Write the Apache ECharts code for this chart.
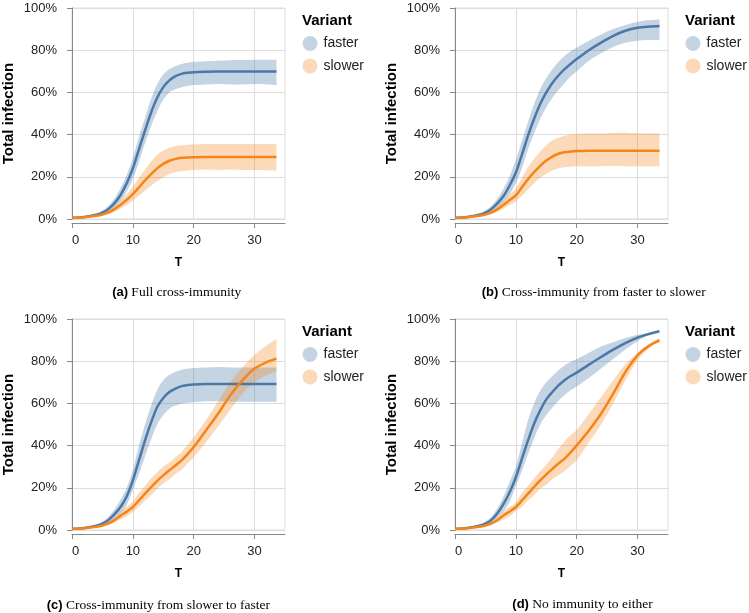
<!DOCTYPE html>
<html>
<head>
<meta charset="utf-8">
<script src="https://cdn.jsdelivr.net/npm/echarts@6/dist/echarts.min.js"></script>
<style>
html,body{margin:0;padding:0;background:#fff;}
#chart{width:749px;height:613px;}
</style>
</head>
<body>
<div id="chart"></div>
<script>
// ---- data ----
const T = [0,2,4,5,6,7,8,9,10,11,12,13,14,15,16,17,18,19,20,22,24,26,28,30,32,33.6];
const xTicks = [0,10,20,30];
const variants = ['faster','slower'];
const legendTitle = 'Variant';
const yTitle = 'Total infection';
const xTitle = 'T';
const captionTags = ['(a)','(b)','(c)','(d)'];
const captionTexts = ['Full cross-immunity','Cross-immunity from faster to slower','Cross-immunity from slower to faster','No immunity to either'];

// Panel A: Full cross-immunity
const aFasterMean  = [0.6,1.0,2.0,3.0,4.8,7.5,11.5,17,24,33,42,50.5,57.5,62.5,65.7,67.7,68.8,69.3,69.6,69.8,69.9,69.9,69.9,69.9,69.9,69.9];
const aFasterUpper = [0.8,1.3,2.6,4,6.3,9.8,14.8,21,29,39,48,57,64,68.5,71,72.5,73.5,74,74.5,74.8,75,75.2,75.3,75.5,75.5,75.5];
const aFasterLower = [0.4,0.8,1.5,2.2,3.6,5.5,8.5,13,19,27,36,44,51,56.5,60,61.5,62.5,63,63.5,63.8,64,63.8,63.8,64,63.8,63.5];
const aSlowerMean  = [0.5,0.8,1.5,2.1,3.1,4.7,6.8,9.1,11.8,15,18.3,21.3,24,26.1,27.6,28.5,29,29.2,29.3,29.4,29.4,29.4,29.4,29.4,29.4,29.4];
const aSlowerUpper = [0.6,1.0,1.9,2.7,4.0,6.0,8.8,11.8,15.3,19.5,23.5,27.3,30.5,32.5,33.8,34.6,35,35.2,35.3,35.5,35.5,35.6,35.5,35.5,35.5,35.4];
const aSlowerLower = [0.4,0.6,1.1,1.6,2.3,3.5,5.0,6.8,8.7,11,13.5,15.8,18,19.8,21.3,22.2,22.7,23,23.2,23.3,23.2,23.3,23.2,23.2,23.1,23.0];

// Panel B: Cross-immunity from faster to slower
const bFasterMean  = [0.6,1.0,2.0,3.0,4.8,7.5,11,16,22,30.5,39.5,47.5,54.5,60,64.5,68,71,73.5,75.8,80,83.6,86.8,89.2,90.6,91.2,91.5];
const bFasterUpper = [0.8,1.3,2.6,4,6.3,9.8,14.5,20.5,28,37,46,54.5,61.5,66.8,71,74.5,77.3,79.5,81.3,84.5,87.5,90,92,93.5,94.3,94.6];
const bFasterLower = [0.4,0.8,1.5,2.2,3.6,5.5,8,12,17,24,33,40.5,47.5,53,57.5,61,64.5,67.5,70,75,78.5,81.5,83.5,84.5,84.8,84.8];
const bSlowerMean  = [0.5,0.8,1.5,2.1,3.1,4.7,6.8,9,11.2,15,18.9,22.2,25.2,27.7,29.6,30.9,31.6,32,32.2,32.4,32.4,32.4,32.4,32.4,32.4,32.4];
const bSlowerUpper = [0.6,1.0,1.9,2.7,4.0,6.0,8.8,11.8,14.5,19.5,24.5,28.5,32,35,37.2,38.5,39.5,40,40.3,40.5,40.5,40.8,41,40.6,40.6,40.5];
const bSlowerLower = [0.4,0.6,1.1,1.6,2.3,3.5,5.0,6.6,8.3,11,14,17,19.5,21.5,23,24,24.5,24.8,25,25,25,25.2,25,25,25,25];

// Panel C: Cross-immunity from slower to faster
const cFasterMean  = [0.6,1.0,2.0,3.0,4.8,7.5,11,16,23.5,33,42.5,51,58.3,62.6,65.4,67,68.2,68.7,69,69.2,69.2,69.2,69.2,69.2,69.2,69.2];
const cFasterUpper = [0.8,1.3,2.6,4,6.3,9.8,14.5,20,28.5,40,50,59,66.5,71,73.5,75,76,76.5,76.8,77,77.2,77,77,77,77,77];
const cFasterLower = [0.4,0.8,1.5,2.2,3.6,5.5,8,12,19,26.5,35,43,50,54.5,57.5,59,59.8,60.3,60.6,61,61,60.8,60.8,60.8,60.8,60.8];
const cSlowerMean  = [0.5,0.8,1.5,2.1,3.1,4.7,6.8,8.7,10.9,14,17.2,20.3,23.3,25.9,28.3,30.6,33,36,39.3,47.2,55.1,63.8,70.9,76.5,79.6,81.2];
const cSlowerUpper = [0.6,1.0,1.9,2.7,4.0,6.0,8.8,11,13.5,17.5,21,24.5,27.5,30,32,34.5,37,40.5,44,52,61,70,77,83,87.5,90.5];
const cSlowerLower = [0.4,0.6,1.1,1.6,2.3,3.5,5.0,6.5,8.5,11,14,16.5,19.5,22,24,26.5,28.5,31.5,34.5,41.5,49,57,64.5,70,73.5,75];

// Panel D: No immunity to either
const dFasterMean  = [0.6,1.0,2.0,3.0,4.8,8,12.5,18,25,33.8,42.5,50.4,56.7,61.9,65.4,68.5,71,73,74.6,78.4,82,85.5,88.6,91.2,93,94.2];
const dFasterUpper = [0.8,1.3,2.6,4,6.3,10.5,16,23,30,41,52,60,66,70,73,75.7,78,79.7,81,84,87,89,91,92.5,93.5,94.5];
const dFasterLower = [0.4,0.8,1.5,2.2,3.6,5.8,9,13.5,21,28,36,43.5,50,54.5,58,61.3,64,66.2,68,72,76.5,81,85.5,89.5,92.5,94];
const dSlowerMean  = [0.5,0.8,1.5,2.1,3.1,4.7,7,8.8,10.9,14,17.2,20.4,23.5,26.3,29,31.5,33.8,36.8,40.1,47.2,55.1,64.6,74.9,82.8,87.5,89.9];
const dSlowerUpper = [0.6,1.0,1.9,2.7,4.0,6.0,9,11,13,17.5,21,24.5,28,31,34.5,38.5,42,45,47.5,55,63,71,78.5,84,88.5,91];
const dSlowerLower = [0.4,0.6,1.1,1.6,2.3,3.5,5.0,6.5,9,11,14,16.5,19.5,21.5,24,26,28,30.5,33,41.5,50,60,71,80.5,86.5,89];

const panels = [
  {faster:{mean:aFasterMean,upper:aFasterUpper,lower:aFasterLower}, slower:{mean:aSlowerMean,upper:aSlowerUpper,lower:aSlowerLower}},
  {faster:{mean:bFasterMean,upper:bFasterUpper,lower:bFasterLower}, slower:{mean:bSlowerMean,upper:bSlowerUpper,lower:bSlowerLower}},
  {faster:{mean:cFasterMean,upper:cFasterUpper,lower:cFasterLower}, slower:{mean:cSlowerMean,upper:cSlowerUpper,lower:cSlowerLower}},
  {faster:{mean:dFasterMean,upper:dFasterUpper,lower:dFasterLower}, slower:{mean:dSlowerMean,upper:dSlowerUpper,lower:dSlowerLower}}
];

// ---- styling / layout ----
const colors = {faster:'#4c78a8', slower:'#f58518'};
const bandColors = {faster:'rgba(76,120,168,0.32)', slower:'rgba(245,133,24,0.3)'};
const SANS = 'Liberation Sans, Arial, Helvetica, sans-serif';
const SERIF = 'Liberation Serif, Times New Roman, serif';
const gridPos = [
  {left:72, top:8}, {left:455, top:8}, {left:72, top:319}, {left:455, top:319}
];
const GW = 213, GH = 211;
const captionPos = [[176.7,292],[593.7,292],[158.3,605],[582.5,604.5]];

// Catmull-Rom -> cubic bezier segments (pixel points from the axis scales)
function curvePath(pts) {
  let s = '';
  for (let i = 0; i < pts.length - 1; i++) {
    const p0 = pts[i - 1] || pts[i], p1 = pts[i], p2 = pts[i + 1], p3 = pts[i + 2] || pts[i + 1];
    const c1 = [p1[0] + (p2[0] - p0[0]) / 6, p1[1] + (p2[1] - p0[1]) / 6];
    const c2 = [p2[0] - (p3[0] - p1[0]) / 6, p2[1] - (p3[1] - p1[1]) / 6];
    s += 'C' + c1[0] + ' ' + c1[1] + ' ' + c2[0] + ' ' + c2[1] + ' ' + p2[0] + ' ' + p2[1];
  }
  return s;
}
function bandRenderer(upper, lower, fill) {
  return function (params, api) {
    const up = T.map((t, k) => api.coord([t, upper[k]]));
    const lo = T.map((t, k) => api.coord([t, lower[k]])).reverse();
    const d = 'M' + up[0][0] + ' ' + up[0][1] + curvePath(up) +
              'L' + lo[0][0] + ' ' + lo[0][1] + curvePath(lo) + 'Z';
    return {type:'path', shape:{pathData:d}, style:{fill:fill, stroke:null}, silent:true};
  };
}

const grids = [], xAxes = [], yAxes = [], series = [], legends = [], graphics = [];

gridPos.forEach((g, i) => {
  grids.push({left:g.left, top:g.top, width:GW, height:GH, show:true, borderColor:'#ddd', borderWidth:1, backgroundColor:'transparent'});
  xAxes.push({
    type:'value', gridIndex:i, min:0, max:35, offset:4,
    axisLine:{show:true, onZero:false, lineStyle:{color:'#888', width:1}},
    axisTick:{show:true, length:5, lineStyle:{color:'#888'}, customValues:xTicks},
    axisLabel:{customValues:xTicks, fontSize:13, color:'#222', margin:11, fontFamily:SANS, alignMinLabel:'left'},
    splitLine:{show:true, lineStyle:{color:'#ddd', width:1}},
    name:xTitle, nameLocation:'middle', nameGap:34,
    nameTextStyle:{fontSize:12, fontWeight:'bold', color:'#000', fontFamily:SANS}
  });
  yAxes.push({
    type:'value', gridIndex:i, min:0, max:100, interval:20, offset:4,
    axisLine:{show:true, lineStyle:{color:'#888', width:1}},
    axisTick:{show:true, length:5, lineStyle:{color:'#888'}},
    axisLabel:{formatter:'{value}%', fontSize:13, color:'#222', margin:11, fontFamily:SANS},
    splitLine:{show:true, lineStyle:{color:'#ddd', width:1}},
    name:yTitle, nameLocation:'middle', nameGap:52,
    nameTextStyle:{fontSize:15, fontWeight:'bold', color:'#000', fontFamily:SANS}
  });
  const p = panels[i];
  variants.forEach(v => {
    const d = p[v];
    series.push({
      type:'custom', name:v, xAxisIndex:i, yAxisIndex:i,
      data:[[T[0], d.mean[0]]],
      renderItem:bandRenderer(d.upper, d.lower, bandColors[v]),
      itemStyle:{color:bandColors[v]}, silent:true, clip:false, z:2
    });
    series.push({
      type:'line', name:v + ' mean', xAxisIndex:i, yAxisIndex:i,
      data:T.map((t,k)=>[t, d.mean[k]]), symbol:'none', smooth:0.3, silent:true,
      lineStyle:{color:colors[v], width:2.5}, itemStyle:{color:colors[v]}, z:2
    });
  });
  const lx = g.left + GW + 17;
  legends.push({
    orient:'vertical', left:lx + 0.5, top:g.top + 28, padding:0, itemWidth:15, itemHeight:15, itemGap:7.4,
    icon:'circle', selectedMode:false,
    data:variants.map(v => ({name:v, icon:'circle', itemStyle:{color:bandColors[v], opacity:1}})),
    textStyle:{fontSize:14, color:'#222', fontFamily:SANS, padding:[0,0,0,1]}
  });
  graphics.push({
    type:'text', x:lx, y:g.top + 13,
    style:{text:legendTitle, font:'bold 15px ' + SANS, fill:'#000', align:'left', verticalAlign:'middle'}
  });
  graphics.push({
    type:'text', x:captionPos[i][0], y:captionPos[i][1],
    style:{
      text:'{b|' + captionTags[i] + '} {s|' + captionTexts[i] + '}',
      align:'center', verticalAlign:'middle',
      rich:{
        b:{fontFamily:SANS, fontWeight:'bold', fontSize:13, fill:'#000'},
        s:{fontFamily:SERIF, fontSize:13.5, fill:'#000'}
      }
    }
  });
});

const chart = echarts.init(document.getElementById('chart'), null, {renderer:'canvas'});
chart.setOption({
  animation:false,
  backgroundColor:'#fff',
  grid:grids, xAxis:xAxes, yAxis:yAxes, series:series, legend:legends,
  graphic:graphics
});
</script>
</body>
</html>
